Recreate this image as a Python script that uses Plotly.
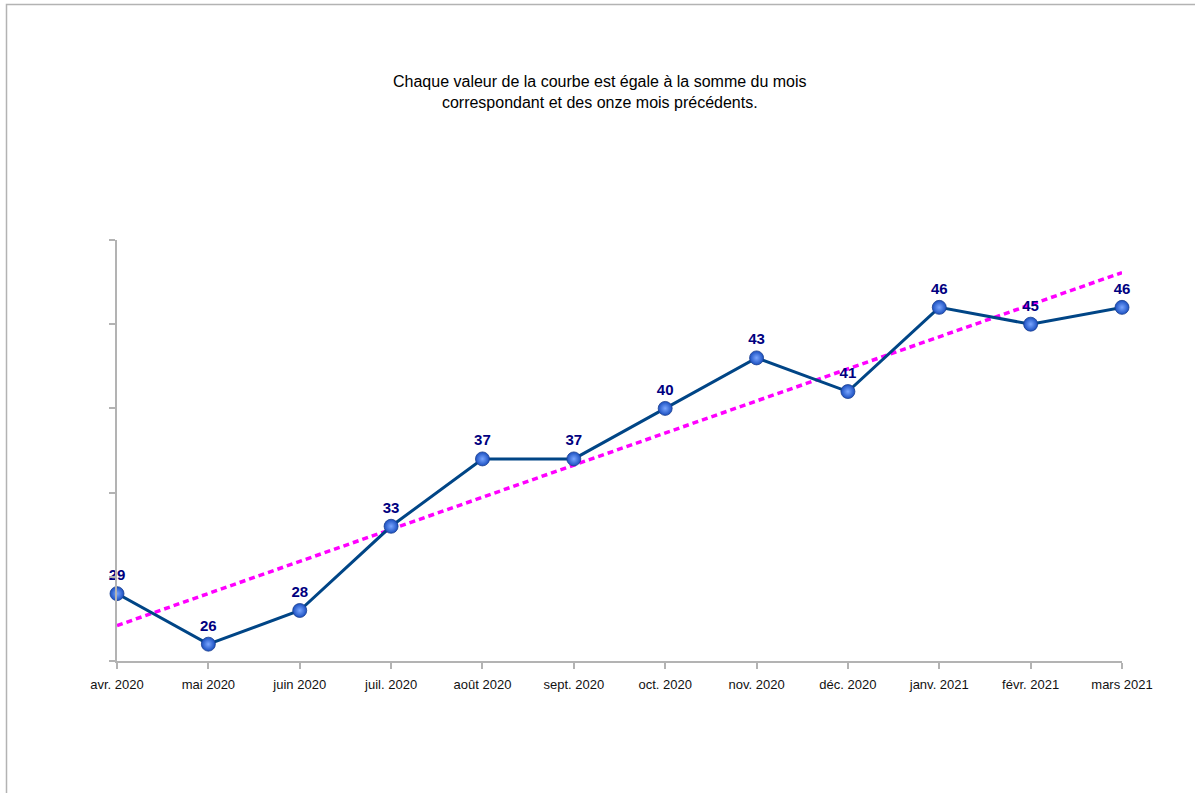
import plotly.graph_objects as go
import numpy as np

months = ["avr. 2020", "mai 2020", "juin 2020", "juil. 2020", "août 2020", "sept. 2020",
          "oct. 2020", "nov. 2020", "déc. 2020", "janv. 2021", "févr. 2021", "mars 2021"]
values = [29, 26, 28, 33, 37, 37, 40, 43, 41, 46, 45, 46]
title_lines = ["Chaque valeur de la courbe est égale à la somme du mois",
               "correspondant et des onze mois précédents."]

x = np.arange(len(months))
slope, intercept = np.polyfit(x, values, 1)
trend = slope * x + intercept

# page coordinates of the plot area (target)
PL, PR, PT, PB = 117, 1122, 240, 661

fig = go.Figure()
fig.add_trace(go.Scatter(
    x=x, y=trend, mode="lines",
    line=dict(color="#ff00ff", width=3.5, dash="6px,4px"),
    hoverinfo="skip", cliponaxis=False, showlegend=False))
fig.add_trace(go.Scatter(
    x=x, y=values, mode="lines+markers+text",
    text=[str(v) for v in values], textposition="top center",
    textfont=dict(family="Liberation Sans, Arial, sans-serif", size=15, color="#000080", weight="bold"),
    line=dict(color="#004586", width=3),
    marker=dict(size=14, color="#1a4fc0",
                gradient=dict(type="radial", color="#7aa6ff"),
                line=dict(width=0.8, color="#1a3f8f")),
    cliponaxis=False, showlegend=False))

fig.add_annotation(
    x=(600 - PL) / (PR - PL), y=(PB - 92) / (PB - PT), xref="paper", yref="paper", yanchor="middle",
    xanchor="center", showarrow=False,
    text="<br>".join(title_lines), align="center",
    font=dict(family="Liberation Sans, Arial, sans-serif", size=16, color="#000000"))

# outer frame
fig.add_shape(type="rect", xref="paper", yref="paper",
              x0=(6.5 - PL) / (PR - PL), x1=1.3,
              y0=-0.6, y1=(PB - 4.5) / (PB - PT),
              line=dict(color="#b3b3b3", width=1.5), fillcolor="rgba(0,0,0,0)", layer="below")

fig.update_layout(
    width=1195, height=793,
    margin=dict(l=PL, r=1195 - PR, t=PT, b=793 - PB),
    paper_bgcolor="white", plot_bgcolor="white",
    font=dict(family="Liberation Sans, Arial, sans-serif", color="#000000"),
    xaxis=dict(range=[0, 11], tickvals=list(x), ticktext=months,
               showgrid=False, zeroline=False, showline=True, linecolor="#b3b3b3", linewidth=1.5,
               ticks="outside", ticklen=6, tickcolor="#b3b3b3", tickwidth=1.5,
               tickfont=dict(size=13, color="#111111"), ticklabelstandoff=5),
    yaxis=dict(range=[25, 50], tickvals=[25, 30, 35, 40, 45, 50], showticklabels=False,
               showgrid=False, zeroline=False, showline=True, linecolor="#b3b3b3", linewidth=1.5,
               ticks="outside", ticklen=6, tickcolor="#b3b3b3", tickwidth=1.5),
)

fig.write_html("out.html", config={"displayModeBar": False},
               post_script="document.body.style.margin='0px';")
